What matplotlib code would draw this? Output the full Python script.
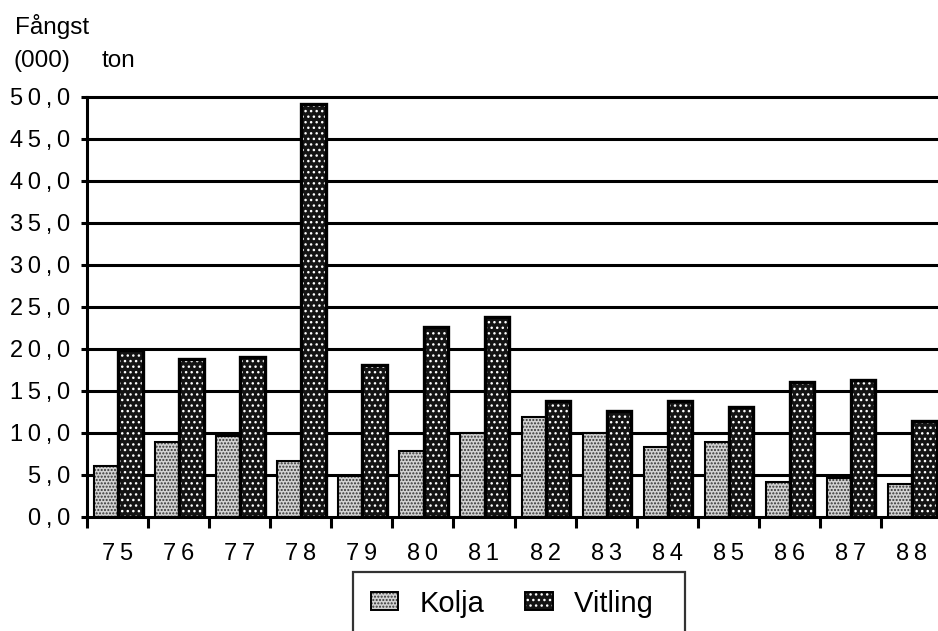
import numpy as np
import matplotlib.pyplot as plt
from matplotlib.patches import Patch

plt.rcParams['font.family'] = ['Liberation Sans', 'DejaVu Sans']

years = ['75', '76', '77', '78', '79', '80', '81', '82', '83', '84', '85', '86', '87', '88']
kolja = [6.1, 8.9, 9.6, 6.7, 4.9, 7.9, 10.0, 11.9, 10.0, 8.3, 8.9, 4.2, 4.6, 3.9]
vitling = [19.9, 18.8, 19.0, 49.2, 18.1, 22.6, 23.8, 13.8, 12.6, 13.8, 13.1, 16.1, 16.3, 11.4]
yticks = [0, 5, 10, 15, 20, 25, 30, 35, 40, 45, 50]


def spaced(s):
    return '\u2009'.join(list(s))


fig = plt.figure(figsize=(9.38, 6.31), dpi=100)
ax = fig.add_axes([87 / 938, 1 - 517 / 631, 855 / 938, 420 / 631])

x = np.arange(len(years))

# grid lines behind the bars
for v in yticks[1:]:
    ax.axhline(v, color='black', lw=2.2, zorder=1, clip_on=False)

# Kolja: light stipple
k_fill = dict(facecolor='#d2d2d2', edgecolor='#333333', hatch='.....', lw=0)
ax.bar(x + 0.115, kolja, width=0.395, align='edge', zorder=2, **k_fill)
ax.bar(x + 0.115, kolja, width=0.395, align='edge', facecolor='none',
       edgecolor='black', lw=1.5, zorder=3)

# Vitling: black with white dots
v_fill = dict(facecolor='#141414', edgecolor='none', lw=0)
v_dots = dict(facecolor='none', edgecolor='white', hatch='...', lw=0)
ax.bar(x + 0.51, vitling, width=0.4, align='edge', zorder=2, **v_fill)
ax.bar(x + 0.51, vitling, width=0.4, align='edge', zorder=3, **v_dots)
ax.bar(x + 0.51, vitling, width=0.4, align='edge', facecolor='none',
       edgecolor='black', lw=2.4, zorder=4)

ax.set_xlim(0, len(years))
ax.set_ylim(0, 50)

for s in ['top', 'right']:
    ax.spines[s].set_visible(False)
ax.spines['left'].set_linewidth(2.2)
ax.spines['bottom'].set_linewidth(2.2)

ax.set_yticks(yticks)
ax.set_yticklabels([spaced(f'{v:.1f}'.replace('.', ',')) for v in yticks], fontsize=17)
ax.tick_params(axis='y', length=4, width=2.2, pad=8)

ax.set_xticks(np.arange(len(years) + 1))
ax.set_xticklabels([])
ax.set_xticks(x + 0.5, minor=True)
ax.set_xticklabels([spaced(y) for y in years], minor=True, fontsize=17)
ax.tick_params(axis='x', which='major', length=8, width=2.2)
ax.tick_params(axis='x', which='minor', length=0, pad=19)

fig.text(15 / 938, 1 - 34 / 631, 'Fångst', fontsize=17.5, va='baseline')
fig.text(13 / 938, 1 - 67 / 631, '(000)', fontsize=17.5, va='baseline')
fig.text(102 / 938, 1 - 67 / 631, 'ton', fontsize=17.5, va='baseline')

h_k = (Patch(**k_fill), Patch(facecolor='none', edgecolor='black', lw=1.4))
h_v = (Patch(**v_fill), Patch(**v_dots),
       Patch(facecolor='none', edgecolor='black', lw=1.4))
leg = fig.legend([h_k, h_v], ['Kolja', 'Vitling\u2002'], loc='upper left',
                 bbox_to_anchor=(353 / 938, 1 - 572 / 631), ncol=2,
                 fontsize=21, frameon=True, fancybox=False, borderaxespad=0,
                 borderpad=0.6, handlelength=0.95, handleheight=0.55,
                 handletextpad=0.72, columnspacing=1.4)
leg.get_frame().set_edgecolor('black')
leg.get_frame().set_linewidth(1.6)

fig.savefig('out.png', dpi=100)
